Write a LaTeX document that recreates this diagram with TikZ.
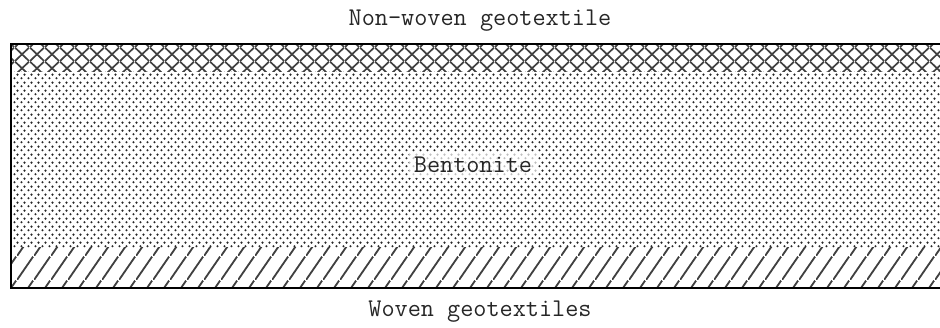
\documentclass[tikz,border=0pt]{standalone}
\usetikzlibrary{patterns.meta}

% fill patterns for the three layers
\tikzdeclarepattern{
  name=bentodots,
  bounding box={(0pt,0pt) and (6.5pt,8pt)},
  tile size={(6.5pt,8pt)},
  code={
    \fill (1.6pt,2pt) circle (1.3pt);
    \fill (4.85pt,6pt) circle (1.3pt);
  }
}
\tikzdeclarepattern{
  name=netcross,
  bounding box={(0pt,0pt) and (15pt,14pt)},
  tile size={(15pt,14pt)},
  code={
    \draw[line width=1.8pt] (0pt,0pt) -- (15pt,14pt);
    \draw[line width=1.8pt] (0pt,14pt) -- (15pt,0pt);
  }
}
\tikzdeclarepattern{
  name=wovenhatch,
  bounding box={(0pt,0pt) and (17pt,24pt)},
  tile size={(17pt,24pt)},
  code={
    \draw[line width=1.9pt] (0pt,0pt) -- (17pt,24pt);
  }
}

\begin{document}
\begin{tikzpicture}[
    x=1pt, y=1pt,
    every node/.style={font=\fontsize{25.5}{29}\selectfont\ttfamily, text=black!85, inner sep=3pt},
    layertext/.style={fill=white, fill opacity=0.7, text opacity=1, inner sep=5pt},
    border/.style={line width=2pt, black}
]
\useasboundingbox (0,0) rectangle (940,327);

% layers
\fill[pattern=netcross, pattern color=black!75] (11,255) rectangle (950,283);
\fill[pattern=bentodots, pattern color=black!85] (11,80) rectangle (950,255);
\fill[pattern=wovenhatch, pattern color=black!75] (11,39) rectangle (950,80);
\draw[border] (950,283) -- (11,283) -- (11,39) -- (950,39);

% labels
\node (nonwoven) at (480,306) {Non-woven geotextile};
\node[layertext] (bentonite) at (473,162) {Bentonite};
\node (woven) at (480,15) {Woven geotextiles};
\end{tikzpicture}
\end{document}
